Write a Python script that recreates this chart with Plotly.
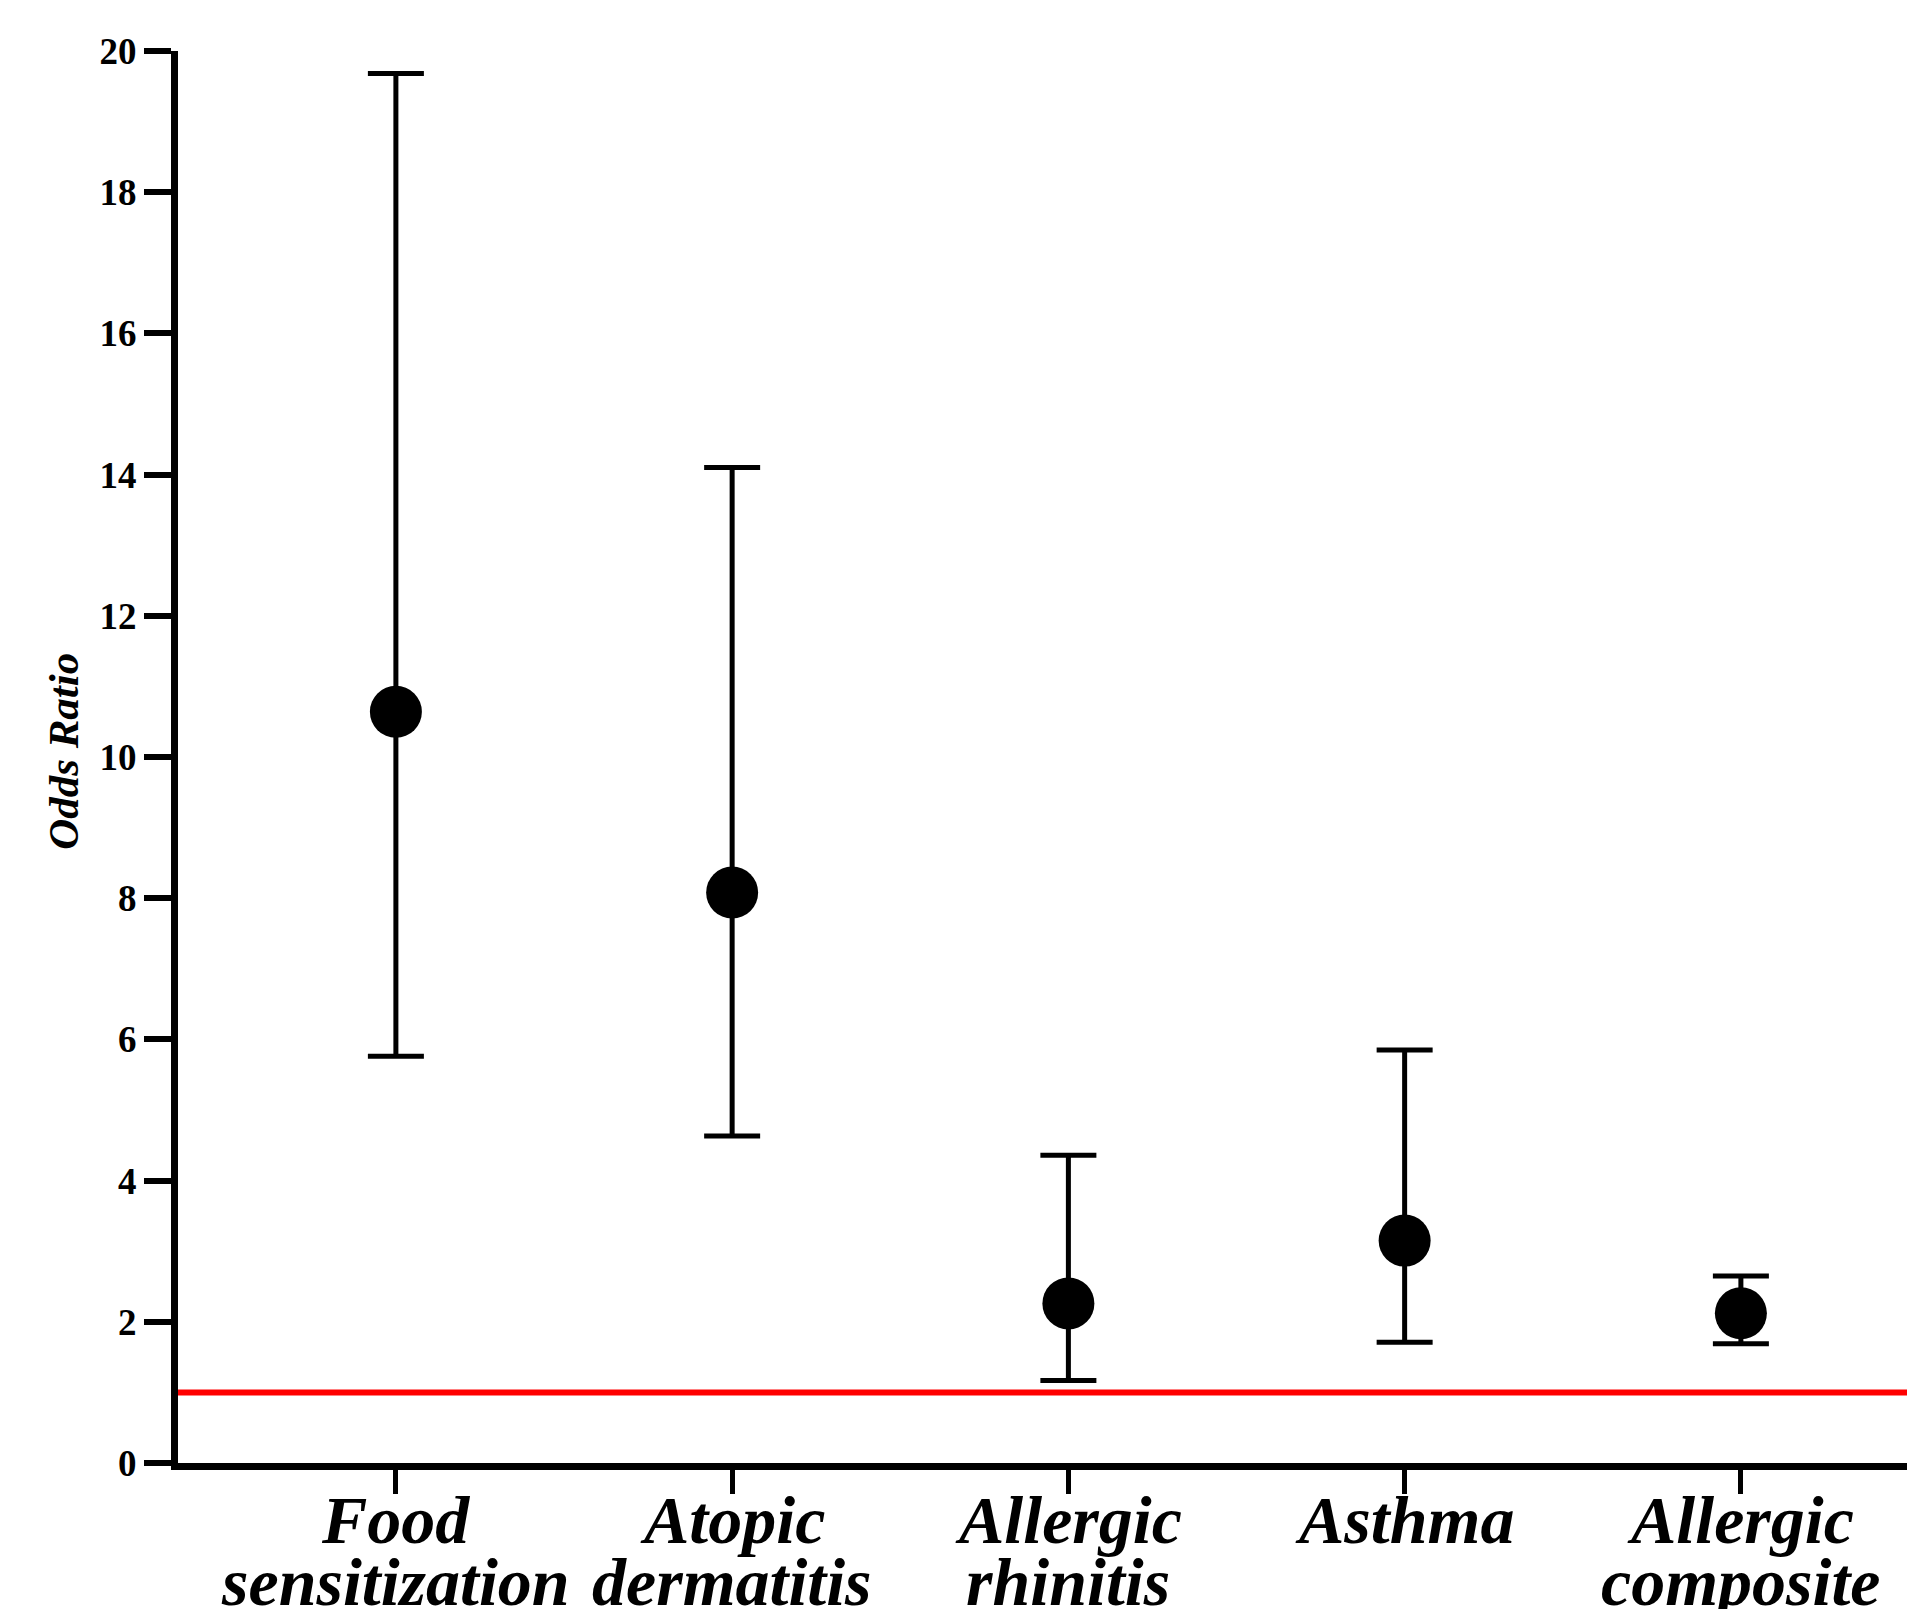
import plotly.graph_objects as go

categories = ["Food sensitization", "Atopic dermatitis", "Allergic rhinitis", "Asthma", "Allergic composite"]
label_line1 = ["Food", "Atopic", "Allergic", "Asthma", "Allergic"]
label_line2 = ["sensitization", "dermatitis", "rhinitis", "", "composite"]
odds_ratio = [10.64, 8.08, 2.26, 3.15, 2.12]
ci_upper = [19.68, 14.10, 4.36, 5.85, 2.65]
ci_lower = [5.76, 4.63, 1.17, 1.71, 1.69]
reference_value = 1
y_ticks = [0, 2, 4, 6, 8, 10, 12, 14, 16, 18, 20]

err_plus = [u - p for u, p in zip(ci_upper, odds_ratio)]
err_minus = [p - l for p, l in zip(odds_ratio, ci_lower)]

fig = go.Figure()
fig.add_trace(go.Scatter(
    x=categories, y=odds_ratio, mode="markers",
    marker=dict(size=52, color="black"),
    error_y=dict(type="data", symmetric=False, array=err_plus, arrayminus=err_minus,
                 thickness=5, width=28, color="black"),
    showlegend=False, cliponaxis=False,
))

fig.add_shape(type="line", xref="paper", x0=0, x1=1, yref="y", y0=reference_value, y1=reference_value,
              line=dict(color="#ff0000", width=6))

lab_font = dict(family="Liberation Serif", size=68, color="black", weight="bold", style="italic")
for c, l1, l2 in zip(categories, label_line1, label_line2):
    fig.add_annotation(x=c, xref="x", y=0, yref="y", text=l1, showarrow=False,
                       yanchor="top", xanchor="center", yshift=-17, font=lab_font)
    if l2:
        fig.add_annotation(x=c, xref="x", y=0, yref="y", text=l2, showarrow=False,
                           yanchor="top", xanchor="center", yshift=-79, font=lab_font)

fig.add_annotation(text="Odds Ratio", xref="paper", x=0, yref="paper", y=0.504,
                   xshift=-114.5, xanchor="center", yanchor="middle", textangle=-90, showarrow=False,
                   font=dict(family="Liberation Serif", size=43, color="black", weight="bold", style="italic"))

fig.update_xaxes(type="category", categoryorder="array", categoryarray=categories,
                 range=[-0.648, 4.494], showticklabels=False, ticks="outside", ticklen=24, tickwidth=5,
                 tickcolor="black", showline=True, linewidth=7, linecolor="black", showgrid=False,
                 zeroline=False, automargin=False)
fig.update_yaxes(range=[0, 20], tickvals=y_ticks, ticks="outside", ticklen=27, tickwidth=6,
                 tickcolor="black", showline=True, linewidth=7, linecolor="black", showgrid=False,
                 zeroline=False, automargin=False,
                 tickfont=dict(family="Liberation Serif", size=37, color="black", weight="bold"))

fig.update_layout(width=1899, height=1601, plot_bgcolor="white", paper_bgcolor="white",
                  margin=dict(l=170, r=0, t=43, b=146), showlegend=False)

fig.write_html("out.html")
